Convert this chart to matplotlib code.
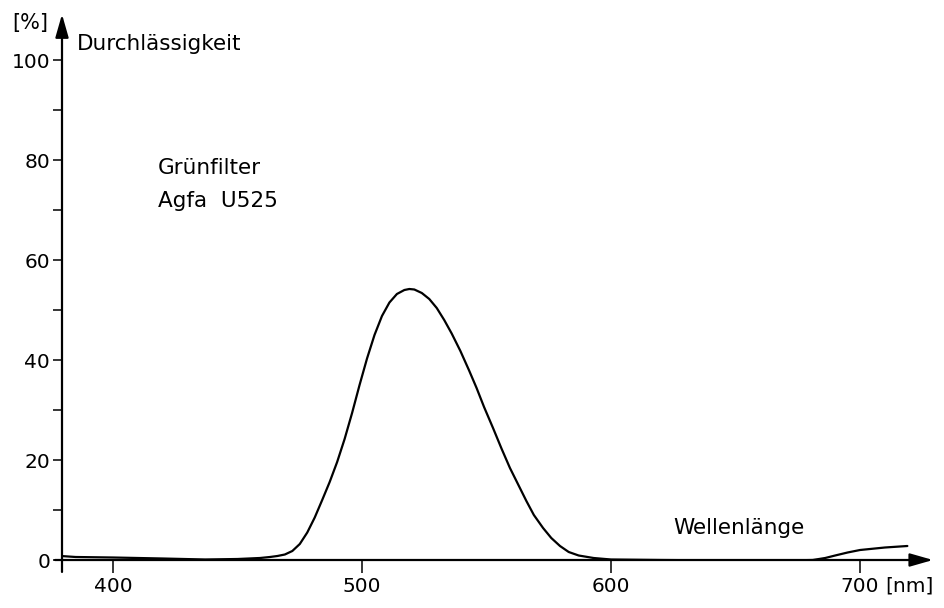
import matplotlib.pyplot as plt
import numpy as np

# transmission curve (nm, %)
wavelength = [379, 385, 400, 420, 437, 450, 459, 463, 466, 469, 472, 475, 478,
              481, 484, 487, 490, 493, 496, 499, 502, 505, 508, 511, 514, 517,
              519, 521, 524, 527, 530, 533, 536, 539.5, 543, 546, 549, 552.6,
              556, 559.4, 563, 566, 569, 572.7, 576, 579.5, 583, 587, 593, 600,
              620, 650, 670, 681, 686, 690, 695, 700, 710, 719]
transmission = [0.8, 0.6, 0.5, 0.3, 0.1, 0.2, 0.4, 0.6, 0.8, 1.1, 1.8, 3.2, 5.5,
                8.5, 12.0, 15.6, 19.6, 24.2, 29.4, 35.0, 40.3, 45.0, 48.8, 51.5,
                53.2, 54.0, 54.2, 54.1, 53.4, 52.2, 50.4, 48.0, 45.3, 41.8, 37.9,
                34.4, 30.6, 26.4, 22.3, 18.4, 14.8, 11.8, 9.0, 6.4, 4.4, 2.8, 1.6,
                0.9, 0.4, 0.1, 0.0, -0.1, -0.1, 0.0, 0.4, 0.9, 1.5, 2.0, 2.5, 2.8]

x_ticks = [400, 500, 600, 700]
y_ticks = [0, 20, 40, 60, 80, 100]
y_minor = [10, 30, 50, 70, 90]

W, H = 944, 608


def px(x, y):
    return x / W, 1 - y / H


def main():
    plt.rcParams['font.family'] = 'DejaVu Sans'
    fig = plt.figure(figsize=(W / 100, H / 100), dpi=100)
    ax = fig.add_axes([62 / W, 48 / H, (933 - 62) / W, (560 - 17) / H])

    ax.plot(wavelength, transmission, color='black', lw=1.6,
            solid_joinstyle='round', solid_capstyle='round')

    ax.set_xlim(379.5, 729.3)
    ax.set_ylim(0, 108.6)
    for s in ax.spines.values():
        s.set_visible(False)

    ax.set_xticks(x_ticks)
    ax.set_yticks(y_ticks)
    ax.set_yticks(y_minor, minor=True)
    ax.tick_params(axis='x', direction='out', length=9, width=1.1, pad=3, labelsize=14.5)
    ax.tick_params(axis='y', which='both', direction='out', length=6.5, width=1.1,
                   pad=2, labelsize=14.5)

    # axes drawn as arrows
    arrow = dict(arrowstyle='-|>,head_length=0.7,head_width=0.2', lw=1.6,
                 color='black', mutation_scale=20, shrinkA=0, shrinkB=0)
    ax.annotate('', xy=(1, 0), xytext=(-0.008, 0), xycoords='axes fraction',
                arrowprops=arrow, annotation_clip=False)
    ax.annotate('', xy=(0, 1.005), xytext=(0, -0.022), xycoords='axes fraction',
                arrowprops=arrow, annotation_clip=False)

    fig.text(*px(30, 23), '[%]', fontsize=15, ha='center', va='center')
    fig.text(*px(77, 44), 'Durchlässigkeit', fontsize=15.5, ha='left', va='center')
    fig.text(*px(158, 168), 'Grünfilter', fontsize=15.5, ha='left', va='center')
    fig.text(*px(158, 201), 'Agfa  U525', fontsize=15.5, ha='left', va='center')
    fig.text(*px(673, 528), 'Wellenlänge', fontsize=15.5, ha='left', va='center')
    fig.text(*px(885, 586), '[nm]', fontsize=14.5, ha='left', va='center')

    fig.savefig('out.png', dpi=100, facecolor='white')


if __name__ == "__main__":
    main()
